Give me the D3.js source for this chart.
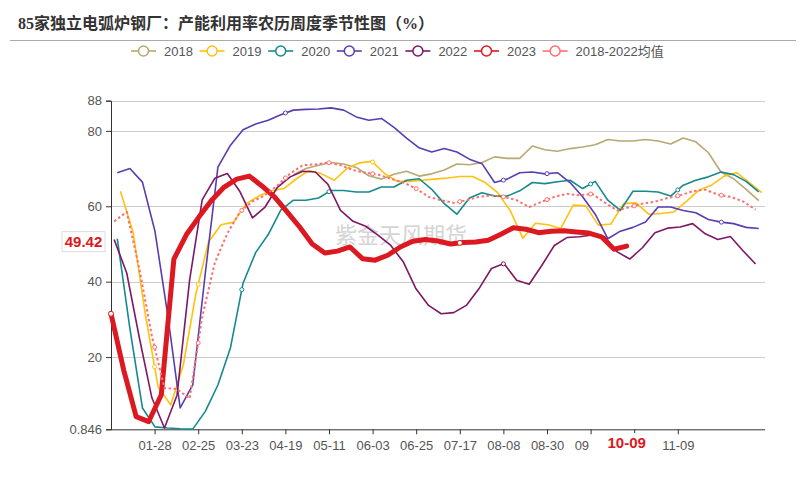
<!DOCTYPE html>
<html>
<head>
<meta charset="utf-8">
<script src="https://cdnjs.cloudflare.com/ajax/libs/d3/7.8.5/d3.min.js"></script>
<style>
  body { margin: 0; background: #fff; }
  svg { display: block; }
</style>
</head>
<body>
<div id="chart"></div>
<script>
// series names, in legend order
var names = ["2018", "2019", "2020", "2021", "2022", "2023", "2018-2022均值"];

// weekly values, each year starts at its own week offset
var v2018 = [68.4, 70, 70.9, 71.6, 71.2, 70.3, 68.1, 67.2, 68.5, 69.3, 68, 68.6, 69.6, 71.2, 71, 71.6, 73.1, 72.7, 72.7, 76, 75, 74.6, 75.3, 75.7, 76.3, 77.7, 77.3, 77.3, 77.7, 77.3, 76.5, 78.1, 77.1, 74.2, 69.1, 67.3, 64.5, 61.5];
var v2019 = [64, 53.2, 30.9, 12.1, 7.3, 17.9, 36.8, 50.5, 55.1, 55.8, 60.7, 62.7, 64.1, 64.7, 67.3, 69.5, 68.6, 66.9, 70, 71.5, 71.9, 68.7, 66.6, 66.6, 66.9, 67.2, 67.5, 67.9, 67.9, 66.3, 63.6, 58.8, 51.5, 55.5, 55.1, 54.1, 60.3, 60.1, 55, 55.3, 60.7, 60.9, 57.9, 58.1, 58.5, 61.3, 64.3, 65.6, 68, 68.9, 66.3, 63.6];
var v2020 = [51.4, 27.6, 6.5, 1.5, 1.2, 1.0, 0.9, 5.6, 12.6, 22.5, 39.6, 47.7, 52.5, 59, 61.6, 61.6, 62.2, 64.2, 64.2, 63.8, 63.8, 65.1, 65.1, 66.9, 67.3, 64.5, 60.7, 57.9, 62.2, 63.6, 62.7, 62.7, 64.1, 66.3, 66, 66.5, 66.9, 64.7, 66.6, 61.6, 58.9, 64, 64, 63.8, 62.7, 65.6, 66.9, 67.8, 69.1, 68.4, 66.6, 63.8];
var v2021 = [68.9, 70, 66.4, 53.3, 31.4, 6.5, 12.6, 42.3, 70.4, 76.2, 80.3, 81.8, 82.8, 84.3, 85.5, 85.7, 85.8, 86.1, 85.5, 83.7, 82.8, 83.3, 80.9, 78.1, 75.5, 74.4, 75.3, 74.4, 72.5, 71.3, 66.3, 67.2, 68.9, 69.1, 68.6, 68.9, 66.3, 62.5, 57.9, 51.4, 53.4, 54.4, 55.8, 59.8, 59.8, 58.9, 58.3, 56.5, 55.8, 55.4, 54.4, 54.1];
var v2022 = [51.2, 42.3, 25.2, 9.2, 1.2, 9.9, 40.4, 61.7, 67.4, 68.7, 63.9, 56.9, 59.8, 65.1, 67.8, 69.3, 69.1, 65.8, 58.9, 56, 54.7, 52.3, 49.6, 45.2, 38.1, 33.7, 31.5, 31.8, 33.7, 38.1, 43.5, 44.8, 40.4, 39.3, 44.3, 49.6, 51.7, 51.9, 52.4, 51.9, 47.9, 46, 49, 53, 54.2, 54.5, 55.4, 52.7, 51.2, 52, 48.2, 44.7];
var v2023 = [31.5, 16.7, 4.2, 2.9, 10, 46, 52.5, 57.2, 61.6, 65.1, 67.2, 68, 65.4, 62.5, 58.5, 54.5, 50, 47.6, 48.1, 49.2, 46.1, 45.7, 47, 49.2, 50.7, 51.2, 50.8, 50, 50.4, 50.5, 51, 52.6, 54.3, 53.9, 53, 53.4, 53.5, 53.2, 52.9, 51.9, 48.6, 49.42];
var vMean = [56, 58.5, 43.5, 25.6, 11.8, 11.5, 9, 30.6, 45, 52.8, 58.5, 61.3, 62.9, 65.6, 68.7, 70.9, 71.1, 71.6, 70.9, 69.6, 68.9, 68.4, 67.3, 66.3, 64.7, 62.5, 61.6, 60.9, 61.6, 62.5, 62.9, 62.5, 61.6, 59.8, 61.2, 62.5, 63.3, 62.9, 63.3, 61, 58.9, 59.8, 60.7, 61.2, 62.2, 62.9, 64, 64.4, 63.1, 62.5, 61.3, 59.1];
var startWeek = [14.5, 0.75, 0.5, 0.5, 0.25, 0, 0.25];

// which label slots carry a visible symbol for each series
var markSlots = [[], [1, 2, 6], [3, 5, 11, 13], [4, 9, 10, 14], [9], [0, 8], [1, 2, 3, 4, 5, 6, 7, 8, 9, 10, 11, 12, 13, 14]];

var xLabels = ["01-28", "02-25", "03-23", "04-19", "05-11", "06-03", "06-25", "07-17", "08-08", "08-30", "09", "", "11-09"];
var yTicks = [0.846, 20, 40, 60, 80, 88];
var lastLabel = "10-09";

var colors = ["#b8a872", "#ffc20e", "#16898e", "#5a3db0", "#7e1866", "#dc1820", "#ff6e6e"];
var allData = [v2018, v2019, v2020, v2021, v2022, v2023, vMean];

var width = 806, height = 490;
var svg = d3.select("#chart").append("svg")
  .attr("width", width).attr("height", height);

var x = d3.scaleLinear().domain([0, 52]).range([111, 765]);
var y = d3.scaleLinear().domain([0.846, 88]).range([429.3, 100.7]);
var slotWeeks = 52 / 15;

// title
svg.append("text")
  .attr("x", 18).attr("y", 29)
  .style("font-family", "'Liberation Serif', 'Noto Sans CJK SC'")
  .style("font-weight", "bold")
  .style("font-size", "16px")
  .style("fill", "#333")
  .text("85家独立电弧炉钢厂：产能利用率农历周度季节性图（%）");

svg.append("line")
  .attr("x1", 10).attr("x2", 796).attr("y1", 40.5).attr("y2", 40.5)
  .style("stroke", "#aaa").style("stroke-width", 1);

// legend
var legend = svg.append("g");
names.forEach(function(n, i) {
  var x0 = 131 + i * 68.6;
  var g = legend.append("g");
  g.append("line").attr("x1", x0).attr("x2", x0 + 25).attr("y1", 51).attr("y2", 51)
    .style("stroke", colors[i]).style("stroke-width", 1.6);
  g.append("circle").attr("cx", x0 + 12.5).attr("cy", 51).attr("r", 5)
    .style("fill", "#fff").style("stroke", colors[i]).style("stroke-width", 1.5);
  g.append("text").attr("x", x0 + 33).attr("y", 55.5)
    .style("font-family", "'Liberation Sans', 'Noto Sans CJK SC'")
    .style("font-size", "13px").style("fill", "#555")
    .text(n);
});

// grid
svg.append("g").selectAll("line").data(yTicks.slice(1)).enter().append("line")
  .attr("x1", 111).attr("x2", 765)
  .attr("y1", function(d) { return Math.round(y(d)) + 0.5; })
  .attr("y2", function(d) { return Math.round(y(d)) + 0.5; })
  .style("stroke", "#ccc").style("stroke-width", 1);

// watermark
svg.append("text")
  .attr("x", 335).attr("y", 243)
  .style("font-family", "'Noto Sans CJK SC'")
  .style("font-size", "22px")
  .style("fill", "#d4d4d4")
  .text("紫金天风期货");

// y axis
var yAxis = svg.append("g").attr("transform", "translate(111,0)")
  .call(d3.axisLeft(y).tickValues(yTicks).tickSize(5).tickPadding(4)
    .tickFormat(function(d) { return d === 0.846 ? "0.846" : d; }));
yAxis.selectAll("path, line").style("stroke", "#333");
yAxis.selectAll("text").style("font-family", "'Liberation Sans'").style("font-size", "13px").style("fill", "#555");

// x axis
var xAxis = svg.append("g").attr("transform", "translate(0," + y(0.846) + ")")
  .call(d3.axisBottom(x)
    .tickValues(xLabels.map(function(d, i) { return (i + 1) * slotWeeks; }))
    .tickSize(5).tickPadding(4)
    .tickFormat(function(d, i) { return xLabels[i]; }));
xAxis.select(".domain").attr("d", "M111,0.5H765").style("stroke", "#333");
xAxis.selectAll("line").style("stroke", "#333");
xAxis.selectAll("text").style("font-family", "'Liberation Sans'").style("font-size", "13px").style("fill", "#555")
  .attr("dy", "0.9em")
  .each(function(d, i) {
    if (xLabels[i] === "09") d3.select(this).attr("text-anchor", "end").attr("dx", "-2");
  });

// lines
var line = d3.line()
  .defined(function(d) { return d != null; })
  .x(function(d, i) { return x(this.start + i); })
  .y(function(d) { return y(d); });

function valueAt(k, week) {
  var data = allData[k], t = week - startWeek[k];
  if (t < -0.01 || t > data.length - 1 + 0.01) return null;
  var i0 = Math.max(0, Math.min(data.length - 1, Math.floor(t)));
  var i1 = Math.min(data.length - 1, i0 + 1);
  var f = t - i0;
  return data[i0] + (data[i1] - data[i0]) * f;
}

var order = [0, 1, 2, 3, 4, 5, 6];
order.forEach(function(k) {
  var data = allData[k];
  var pts = data.map(function(d, i) { return [x(startWeek[k] + i), y(d)]; });
  var path = svg.append("path")
    .attr("d", d3.line()(pts))
    .style("fill", "none")
    .style("stroke", colors[k])
    .style("stroke-linejoin", "round");
  if (k === 5) {
    path.style("stroke-width", 5).style("stroke-linecap", "round");
  } else if (k === 6) {
    path.style("stroke-width", 2).style("stroke-dasharray", "2.5,2.5");
  } else {
    path.style("stroke-width", 1.6);
  }
  markSlots[k].forEach(function(s) {
    var v = valueAt(k, s * slotWeeks);
    if (v == null) return;
    svg.append("circle")
      .attr("cx", x(s * slotWeeks)).attr("cy", y(v))
      .attr("r", k === 5 ? 2.5 : 2)
      .style("fill", "#fff").style("stroke", colors[k]).style("stroke-width", 1);
  });
});

// last value on y axis
var lastV = v2023[v2023.length - 1];
var lastX = x(startWeek[5] + v2023.length - 1);
svg.append("rect")
  .attr("x", 62).attr("y", y(lastV) - 14.5).attr("width", 43).attr("height", 20)
  .style("fill", "#fff").style("stroke", "#ddd");
svg.append("text")
  .attr("x", 83.5).attr("y", y(lastV) + 0.5)
  .attr("text-anchor", "middle")
  .style("font-family", "'Liberation Sans'").style("font-weight", "bold")
  .style("font-size", "15px").style("fill", "#dc1820")
  .text(lastV.toFixed(2));

// last date on x axis
svg.append("rect")
  .attr("x", lastX - 30).attr("y", 433).attr("width", 60).attr("height", 20)
  .style("fill", "#fff");
svg.append("text")
  .attr("x", lastX).attr("y", 448)
  .attr("text-anchor", "middle")
  .style("font-family", "'Liberation Sans'").style("font-weight", "bold")
  .style("font-size", "15px").style("fill", "#dc1820")
  .text(lastLabel);
</script>
</body>
</html>
